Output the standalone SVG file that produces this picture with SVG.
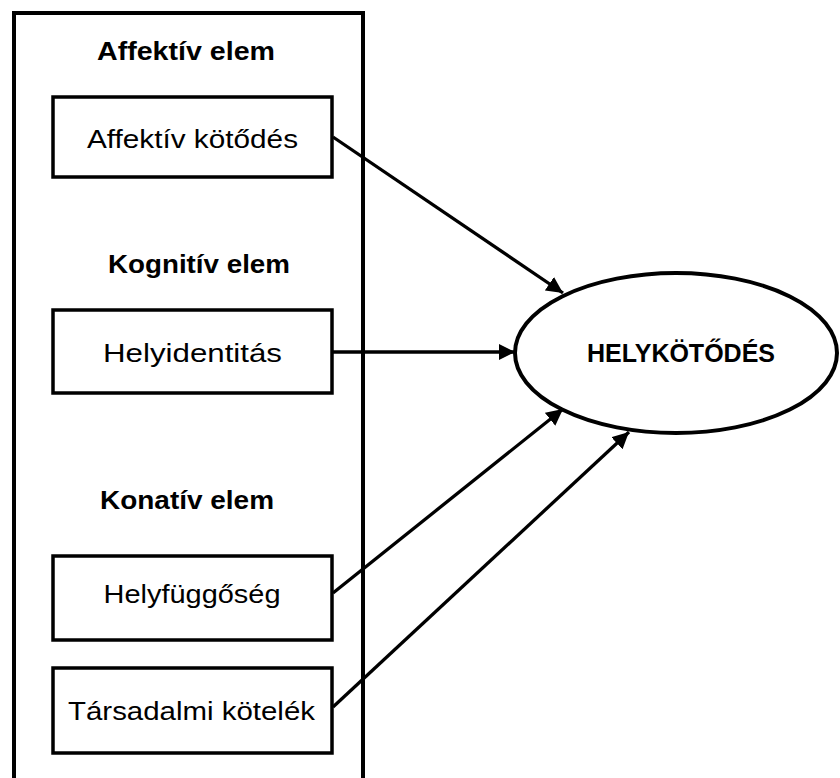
<svg xmlns="http://www.w3.org/2000/svg" width="840" height="778" viewBox="0 0 840 778">
<defs>
<style>
.frame{fill:#fff;stroke:#000;stroke-width:4}
.box{fill:#fff;stroke:#000;stroke-width:3.5}
.t{font-family:"Liberation Sans",Arial,sans-serif;font-size:26px;fill:#000;text-anchor:middle}
.h{font-family:"Liberation Sans",Arial,sans-serif;font-size:26px;font-weight:bold;fill:#000;text-anchor:middle}
.c{stroke:#000;stroke-width:3.3;fill:none}
</style>
<marker id="ah" viewBox="0 0 10 10" refX="10" refY="5" markerWidth="5" markerHeight="5" orient="auto" markerUnits="strokeWidth">
<path d="M0,0 L10,5 L0,10 Z" fill="#000"/>
</marker>
</defs>
<rect width="840" height="778" fill="#fff"/>
<g id="frame">
<rect class="frame" x="14" y="13" width="349" height="790"/>
<text class="h" x="186" y="60" textLength="178" lengthAdjust="spacingAndGlyphs">Affektív elem</text>
<text class="h" x="199" y="273" textLength="182" lengthAdjust="spacingAndGlyphs">Kognitív elem</text>
<text class="h" x="187" y="509" textLength="174" lengthAdjust="spacingAndGlyphs">Konatív elem</text>
</g>
<g id="n1">
<rect class="box" x="53" y="97" width="279" height="80"/>
<text class="t" x="192.5" y="148" textLength="211" lengthAdjust="spacingAndGlyphs">Affektív kötődés</text>
</g>
<g id="n2">
<rect class="box" x="53" y="310" width="279" height="83"/>
<text class="t" x="192.5" y="362" textLength="179" lengthAdjust="spacingAndGlyphs">Helyidentitás</text>
</g>
<g id="n3">
<rect class="box" x="53" y="556" width="279" height="84"/>
<text class="t" x="192" y="603" textLength="177" lengthAdjust="spacingAndGlyphs">Helyfüggőség</text>
</g>
<g id="n4">
<rect class="box" x="53" y="668" width="279" height="85"/>
<text class="t" x="191.5" y="720" textLength="247" lengthAdjust="spacingAndGlyphs">Társadalmi kötelék</text>
</g>
<g id="target">
<ellipse cx="676" cy="353" rx="161" ry="80" fill="#fff" stroke="#000" stroke-width="4"/>
<text class="h" x="681" y="362" textLength="188" lengthAdjust="spacingAndGlyphs">HELYKÖTŐDÉS</text>
</g>
<g id="connectors">
<line class="c" x1="333" y1="137" x2="563" y2="293" marker-end="url(#ah)"/>
<line class="c" x1="333" y1="352" x2="515" y2="352" marker-end="url(#ah)"/>
<line class="c" x1="333" y1="593" x2="563" y2="409" marker-end="url(#ah)"/>
<line class="c" x1="333" y1="707" x2="629" y2="432" marker-end="url(#ah)"/>
</g>
</svg>
